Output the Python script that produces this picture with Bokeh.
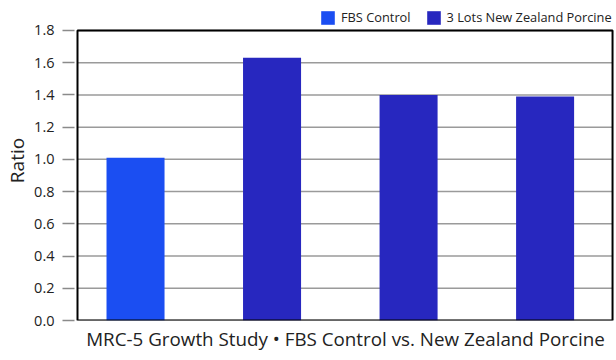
from bokeh.plotting import figure
from bokeh.models import Range1d, Legend, LegendItem, Title, FixedTicker, NumeralTickFormatter, ColumnDataSource
from bokeh.embed import file_html
from bokeh.resources import INLINE

categories = ["FBS Control", "Lot 1", "Lot 2", "Lot 3"]
values = [1.01, 1.63, 1.40, 1.39]
series = ["FBS Control", "3 Lots New Zealand Porcine", "3 Lots New Zealand Porcine", "3 Lots New Zealand Porcine"]
series_names = ["FBS Control", "3 Lots New Zealand Porcine"]
series_colors = ["#1b4ef2", "#2727bf"]
y_ticks = [0.0, 0.2, 0.4, 0.6, 0.8, 1.0, 1.2, 1.4, 1.6, 1.8]

FONT = "Open Sans"

# plotting box (axis box) bounds in data units
x_lo, x_hi = 0.575, 4.494
y_lo, y_hi = y_ticks[0], y_ticks[-1]

p = figure(width=616, height=360, output_backend="svg", toolbar_location=None,
           x_range=Range1d(0.553, 4.523), y_range=Range1d(0, 1.986),
           min_border_left=74, min_border_right=0, min_border_top=0, min_border_bottom=40)
p.outline_line_color = None
p.xaxis.visible = False
p.xgrid.visible = False
p.ygrid.visible = False

# horizontal gridlines inside the box
p.segment(x0=[x_lo] * len(y_ticks), x1=[x_hi] * len(y_ticks), y0=y_ticks, y1=y_ticks,
          line_color="#9a9a9a", line_width=1.5)

renderers = []
for name, color in zip(series_names, series_colors):
    idx = [i for i, s in enumerate(series) if s == name]
    src = ColumnDataSource(dict(x=[i + 1 for i in idx], top=[values[i] for i in idx]))
    r = p.vbar(x="x", top="top", width=0.425, bottom=0, source=src, fill_color=color, line_color=None)
    renderers.append(r)

# black box around the plotting area
p.quad(left=[x_lo], right=[x_hi], bottom=[y_lo], top=[y_hi], fill_color=None,
       line_color="black", line_width=2)

ax = p.yaxis[0]
ax.ticker = FixedTicker(ticks=y_ticks)
ax.formatter = NumeralTickFormatter(format="0.0")
ax.axis_line_color = None
ax.major_tick_out = 12
ax.major_tick_in = 0
ax.major_tick_line_color = "#8a8a8a"
ax.major_tick_line_width = 1.5
ax.minor_tick_line_color = None
ax.major_label_standoff = 8
ax.major_label_text_font = FONT
ax.major_label_text_font_size = "14.5px"
ax.major_label_text_color = "#222222"
ax.axis_label = "Ratio"
ax.axis_label_text_font = FONT
ax.axis_label_text_font_style = "normal"
ax.axis_label_text_font_size = "19px"
ax.axis_label_text_color = "#222222"
ax.axis_label_standoff = 1

legend = Legend(items=[LegendItem(label=n, renderers=[r]) for n, r in zip(series_names, renderers)],
                orientation="horizontal", location=(245, 294), padding=0, margin=0, spacing=14,
                glyph_width=17, glyph_height=17, label_height=17, label_standoff=5,
                label_text_font=FONT, label_text_font_size="12.8px", label_text_color="#222222",
                background_fill_alpha=0, border_line_color=None)
p.add_layout(legend, "center")

t = Title(text="MRC-5 Growth Study \u2022 FBS Control vs. New Zealand Porcine", align="center",
          text_font=FONT, text_font_size="18.8px", text_font_style="normal", text_color="#222222",
          offset=0, standoff=7)
p.add_layout(t, "below")

open("out.html", "w").write(file_html(p, INLINE))
